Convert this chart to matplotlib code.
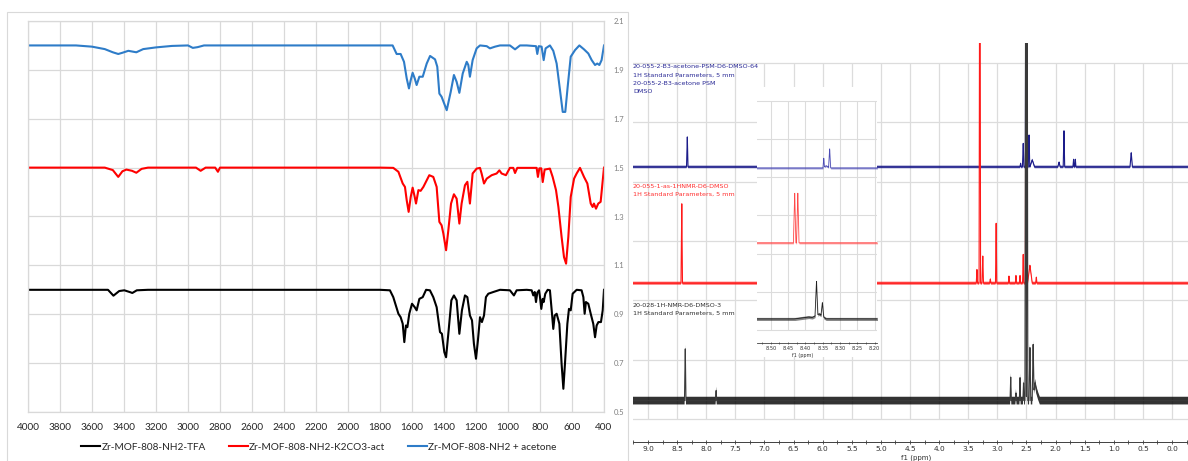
import matplotlib
matplotlib.use("Agg")
import matplotlib.pyplot as plt
import numpy as np
from matplotlib.patches import Rectangle
from matplotlib.ticker import MultipleLocator, NullFormatter

W, H = 1188, 461

# ---------------- IR spectra (wavenumber, offset transmittance) ----------------
ir_tfa_wn = [4000, 3500, 3466, 3430, 3398, 3360, 3348, 3320, 3250, 1800, 1738, 1717, 1685, 1671,
             1658, 1648, 1638, 1629, 1617, 1600, 1583, 1571, 1554, 1533, 1512, 1488, 1467, 1446,
             1425, 1413, 1398, 1387, 1371, 1354, 1338, 1321, 1304, 1288, 1269, 1254, 1238, 1225,
             1213, 1200, 1188, 1175, 1163, 1150, 1138, 1123, 1092, 1050, 988, 963, 946, 883, 852,
             842, 833, 825, 817, 806, 800, 792, 783, 777, 767, 752, 738, 725, 717, 708, 696, 679,
             665, 654, 644, 629, 619, 608, 596, 571, 540, 529, 521, 513, 498, 483, 467, 456, 446,
             435, 419, 408, 400]
ir_tfa_y = [1.0, 1.0, 0.976, 0.995, 0.998, 0.99, 0.987, 0.998, 1.0, 1.0, 0.998, 0.97, 0.902, 0.888,
            0.861, 0.786, 0.854, 0.847, 0.902, 0.943, 0.929, 0.916, 0.963, 0.97, 1.0, 0.998, 0.97,
            0.929, 0.827, 0.82, 0.745, 0.724, 0.834, 0.957, 0.977, 0.957, 0.82, 0.916, 0.977, 0.97,
            0.895, 0.875, 0.779, 0.718, 0.793, 0.888, 0.868, 0.895, 0.97, 0.984, 0.991, 1.0, 0.998,
            0.977, 0.998, 1.0, 0.998, 0.977, 0.991, 0.95, 0.988, 0.998, 0.97, 0.922, 0.963, 0.95,
            0.984, 1.0, 0.998, 0.902, 0.84, 0.895, 0.902, 0.861, 0.697, 0.595, 0.697, 0.861, 0.922,
            0.916, 0.984, 1.0, 0.998, 0.97, 0.902, 0.95, 0.943, 0.902, 0.861, 0.806, 0.854, 0.868,
            0.868, 0.916, 1.0]

ir_k2co3_wn = [4000, 3520, 3470, 3436, 3410, 3385, 3350, 3323, 3290, 3250, 2950, 2921, 2890, 2830,
               2813, 2800, 1800, 1717, 1685, 1658, 1644, 1633, 1621, 1608, 1596, 1583, 1575, 1560,
               1546, 1529, 1492, 1467, 1446, 1429, 1415, 1404, 1387, 1373, 1356, 1338, 1321, 1304,
               1290, 1269, 1254, 1238, 1221, 1196, 1175, 1165, 1150, 1133, 1102, 1071, 1054, 1040,
               1013, 988, 967, 956, 942, 821, 813, 804, 792, 783, 771, 738, 721, 700, 685, 665, 650,
               637, 623, 608, 587, 571, 550, 525, 504, 483, 471, 463, 450, 436, 421, 400]
ir_k2co3_y = [1.5, 1.5, 1.49, 1.462, 1.485, 1.492, 1.487, 1.479, 1.495, 1.5, 1.5, 1.487, 1.5, 1.5,
              1.483, 1.5, 1.5, 1.499, 1.483, 1.435, 1.421, 1.366, 1.319, 1.38, 1.418, 1.38, 1.353,
              1.408, 1.405, 1.421, 1.469, 1.462, 1.421, 1.278, 1.264, 1.23, 1.162, 1.243, 1.353,
              1.391, 1.373, 1.271, 1.353, 1.428, 1.442, 1.353, 1.476, 1.496, 1.499, 1.476, 1.435,
              1.455, 1.469, 1.476, 1.489, 1.476, 1.469, 1.499, 1.499, 1.478, 1.499, 1.499, 1.462,
              1.497, 1.497, 1.441, 1.492, 1.496, 1.462, 1.408, 1.339, 1.216, 1.134, 1.107, 1.216,
              1.38, 1.455, 1.476, 1.499, 1.462, 1.435, 1.353, 1.339, 1.353, 1.332, 1.353, 1.36, 1.5]

ir_acetone_wn = [4000, 3700, 3600, 3520, 3470, 3436, 3410, 3373, 3323, 3280, 3200, 3100, 3000, 2970,
                 2940, 2900, 1800, 1721, 1696, 1671, 1650, 1633, 1619, 1608, 1596, 1583, 1571, 1554,
                 1533, 1508, 1487, 1456, 1442, 1429, 1415, 1383, 1358, 1338, 1321, 1304, 1283, 1258,
                 1248, 1238, 1221, 1196, 1175, 1133, 1113, 1081, 1050, 988, 956, 925, 883, 825, 817,
                 808, 790, 777, 765, 738, 717, 696, 675, 658, 642, 627, 608, 581, 554, 525, 498, 477,
                 456, 442, 429, 415, 400]
ir_acetone_y = [2.0, 2.0, 1.995, 1.985, 1.972, 1.965, 1.97, 1.978, 1.972, 1.985, 1.992, 1.998, 2.0,
                1.99, 1.993, 2.0, 2.0, 2.0, 1.965, 1.965, 1.933, 1.865, 1.824, 1.858, 1.888, 1.865,
                1.838, 1.872, 1.872, 1.926, 1.957, 1.943, 1.913, 1.803, 1.79, 1.735, 1.81, 1.879,
                1.851, 1.806, 1.885, 1.933, 1.92, 1.872, 1.94, 1.988, 2.0, 1.997, 1.988, 1.995, 2.0,
                2.0, 1.984, 2.0, 2.0, 1.997, 1.965, 1.997, 1.995, 1.94, 1.988, 2.0, 1.978, 1.926,
                1.817, 1.728, 1.728, 1.831, 1.954, 1.981, 2.0, 1.984, 1.967, 1.94, 1.92, 1.926, 1.92,
                1.94, 2.0]

ir_labels = ["Zr-MOF-808-NH2-TFA", "Zr-MOF-808-NH2-K2CO3-act", "Zr-MOF-808-NH2 + acetone"]
ir_colors = ["#000000", "#ff0000", "#2e7cc8"]

# ---------------- 1H NMR peak lists: (ppm, height above baseline, half width) ----------------
nmr_names = [
    ["20-055-2-B3-acetone-PSM-D6-DMSO-64", "1H Standard Parameters, 5 mm",
     "20-055-2-B3-acetone PSM", "DMSO"],
    ["20-055-1-as-1HNMR-D6-DMSO", "1H Standard Parameters, 5 mm"],
    ["20-028-1H-NMR-D6-DMSO-3", "1H Standard Parameters, 5 mm"],
]
nmr_baselines = [4.25, 2.29, 0.31]

psm_ppm = [8.325, 2.60, 2.555, 2.505, 2.495, 2.455, 2.40, 1.94, 1.855, 1.69, 1.66, 0.70]
psm_h = [0.51, 0.06, 0.40, 9.0, 9.0, 0.54, 0.12, 0.08, 0.61, 0.13, 0.13, 0.24]
psm_w = [0.012, 0.01, 0.012, 0.012, 0.012, 0.012, 0.04, 0.02, 0.012, 0.01, 0.01, 0.02]

asyn_ppm = [8.42, 3.35, 3.30, 3.25, 3.12, 3.02, 2.80, 2.68, 2.61, 2.555, 2.505, 2.495, 2.44, 2.33]
asyn_h = [1.35, 0.23, 9.0, 0.46, 0.07, 1.01, 0.12, 0.13, 0.13, 0.49, 9.0, 9.0, 0.30, 0.10]
asyn_w = [0.012, 0.01, 0.012, 0.012, 0.01, 0.01, 0.008, 0.008, 0.008, 0.01, 0.012, 0.012, 0.04, 0.01]

tfa_ppm = [8.36, 7.83, 2.77, 2.68, 2.61, 2.55, 2.512, 2.488, 2.44, 2.385, 2.35, 2.30]
tfa_h = [0.88, 0.17, 0.40, 0.13, 0.39, 0.30, 9.0, 9.0, 0.90, 0.86, 0.30, 0.08]
tfa_w = [0.012, 0.01, 0.01, 0.01, 0.01, 0.01, 0.012, 0.012, 0.015, 0.015, 0.05, 0.03]

# expanded aromatic region (inset)
ins_baselines = [4.24, 2.28, 0.29]
ins_psm_ppm = [8.347, 8.340, 8.330]
ins_psm_h = [0.24, 0.06, 0.50]
ins_psm_w = [0.002, 0.01, 0.003]
ins_asyn_ppm = [8.431, 8.422]
ins_asyn_h = [1.31, 1.31]
ins_asyn_w = [0.0035, 0.0035]
ins_tfa_ppm = [8.39, 8.368, 8.360, 8.351]
ins_tfa_h = [0.05, 0.89, 0.12, 0.36]
ins_tfa_w = [0.04, 0.004, 0.02, 0.004]

nmr_colors = ["#1c1c8a", "#ff1a1a", "#000000"]
ins_colors = ["#4a4ab4", "#ff4a4a", "#202020"]
text_colors = ["#2a2a96", "#ff3030", "#303030"]


def box(l, t, r, b):
    return [l / W, 1 - b / H, (r - l) / W, (b - t) / H]


def trace(grid, base, centers, heights, widths):
    y = np.full_like(grid, base)
    for c, h, w in zip(centers, heights, widths):
        y += h * np.clip(1 - np.abs(grid - c) / w, 0, None)
    return y


fig = plt.figure(figsize=(W / 100, H / 100), dpi=100)
fig.patch.set_facecolor("white")

# frame around the IR panel
fig.patches.append(Rectangle((7 / W, -0.05), (628 - 7) / W, 1.05 - 12 / H,
                             transform=fig.transFigure, fill=False,
                             edgecolor="#d9d9d9", lw=0.8, zorder=0))

# ---------------- IR panel ----------------
ax = fig.add_axes(box(28, 21, 604, 412))
for wn, yv, lab, col in zip([ir_tfa_wn, ir_k2co3_wn, ir_acetone_wn],
                            [ir_tfa_y, ir_k2co3_y, ir_acetone_y], ir_labels, ir_colors):
    ax.plot(wn, yv, color=col, lw=1.5, label=lab, solid_joinstyle="round")
ax.set_xlim(4000, 400)
ax.set_ylim(0.5, 2.1)
ax.xaxis.set_major_locator(MultipleLocator(200))
ax.grid(True, color="#d9d9d9", lw=0.9)
ax.set_axisbelow(True)
for s in ax.spines.values():
    s.set_color("#d9d9d9")
    s.set_linewidth(0.9)
ax.yaxis.tick_right()
ax.tick_params(axis="x", length=0, pad=8, labelsize=7.2, labelcolor="#262626")
ax.tick_params(axis="y", length=0, pad=7, labelsize=5.5, labelcolor="#7f7f7f")
yt = np.round(np.arange(0.5, 2.11, 0.2), 1)
ax.set_yticks(yt)
ax.set_yticklabels([f"{v:.1f}" for v in yt])
for t in ax.get_xticklabels() + ax.get_yticklabels():
    t.set_fontfamily("Lato")
ax.legend(loc="center", bbox_to_anchor=(0.505, -0.09), ncol=3, frameon=False,
          handlelength=1.9, handletextpad=0.1, columnspacing=2.3,
          prop={"family": "Lato", "size": 7.2}, labelcolor="#262626")

# ---------------- NMR main panel ----------------
nx = fig.add_axes(box(633, 43, 1188, 442))
nx.set_xlim(9.258, -0.275)
nx.set_ylim(-0.388, 6.34)
for k in range(7):
    nx.axhline(k, color="#dcdcdc", lw=0.9, zorder=0)
nx.vlines(np.arange(0, 9.01, 0.5), 0, 6, color="#dcdcdc", lw=0.9, zorder=0)

grid = np.linspace(-0.3, 9.3, 40000)
peak_sets = [(psm_ppm, psm_h, psm_w), (asyn_ppm, asyn_h, asyn_w), (tfa_ppm, tfa_h, tfa_w)]
noise_amp = [0.022, 0.025, 0.065]
noise_alpha = [0.75, 0.75, 0.8]
line_colors = ["#1c1c8a", "#ff1a1a", "#3a3a3a"]
for (pp, hh, ww), base, col, lcol, amp, al in zip(peak_sets, nmr_baselines, nmr_colors,
                                                  line_colors, noise_amp, noise_alpha):
    y = trace(grid, base, pp, hh, ww)
    nx.fill_between(grid, y - amp, y + amp, color=col, lw=0, alpha=al, zorder=2)
    nx.plot(grid, y, color=lcol, lw=0.8, zorder=3)

for s in ["left", "right", "top"]:
    nx.spines[s].set_visible(False)
nx.spines["bottom"].set_color("#404040")
nx.spines["bottom"].set_linewidth(0.7)
nx.set_yticks([])
nx.xaxis.set_major_locator(MultipleLocator(0.5))
nx.xaxis.set_minor_locator(MultipleLocator(0.25))
nx.tick_params(axis="x", which="both", direction="inout", length=3, width=0.6,
               color="#404040", labelsize=5.3, labelcolor="#303030", pad=1.5)
nx.set_xticks(np.arange(0, 9.01, 0.5))
nx.set_xticklabels([f"{v:.1f}" for v in np.arange(0, 9.01, 0.5)])
fig.text(916 / W, 1 - 457.5 / H, "f1 (ppm)", ha="center", va="center", fontsize=5.0, color="#303030")

# spectrum titles
title_tops = [67, 186, 305]
for lines, top, col in zip(nmr_names, title_tops, text_colors):
    for i, line in enumerate(lines):
        fig.text(633 / W, 1 - (top + 8.3 * i) / H, line, ha="left", va="center",
                 fontsize=4.6, color=col, zorder=5)

# ---------------- inset: expanded 8.2-8.5 ppm ----------------
fig.patches.append(Rectangle((757 / W, 1 - 357 / H), 120 / W, 14 / H, transform=fig.transFigure,
                             facecolor="white", edgecolor="none", zorder=2))
ix = fig.add_axes(box(757, 87, 877, 343), zorder=3)
ix.set_facecolor("white")
ix.set_xlim(8.54, 8.193)
ix.set_ylim(-0.34, 6.36)
for k in range(7):
    ix.axhline(k, color="#dcdcdc", lw=0.8, zorder=0)
ix.vlines(np.arange(8.20, 8.501, 0.05), 0, 6, color="#dcdcdc", lw=0.8, zorder=0)
igrid = np.linspace(8.18, 8.56, 6000)
ins_sets = [(ins_psm_ppm, ins_psm_h, ins_psm_w), (ins_asyn_ppm, ins_asyn_h, ins_asyn_w),
            (ins_tfa_ppm, ins_tfa_h, ins_tfa_w)]
ins_amp = [0.025, 0.025, 0.04]
for (pp, hh, ww), base, col, amp in zip(ins_sets, ins_baselines, ins_colors, ins_amp):
    y = trace(igrid, base, pp, hh, ww)
    ix.fill_between(igrid, y - amp, y + amp, color=col, lw=0, alpha=0.55, zorder=2)
    ix.plot(igrid, y, color=col, lw=0.6, zorder=3)
for s in ["left", "right", "top"]:
    ix.spines[s].set_visible(False)
ix.spines["bottom"].set_color("#404040")
ix.spines["bottom"].set_linewidth(0.6)
ix.set_yticks([])
ix.set_xticks(np.arange(8.20, 8.501, 0.05))
ix.set_xticklabels([f"{v:.2f}" for v in np.arange(8.20, 8.501, 0.05)])
ix.xaxis.set_minor_locator(MultipleLocator(0.025))
ix.xaxis.set_minor_formatter(NullFormatter())
ix.tick_params(axis="x", which="both", direction="inout", length=2, width=0.5,
               color="#404040", labelsize=3.6, labelcolor="#303030", pad=1)
fig.text(803 / W, 1 - 355.5 / H, "f1 (ppm)", ha="center", va="center", fontsize=3.5,
         color="#303030", zorder=6)

fig.savefig("out.png", dpi=100)
